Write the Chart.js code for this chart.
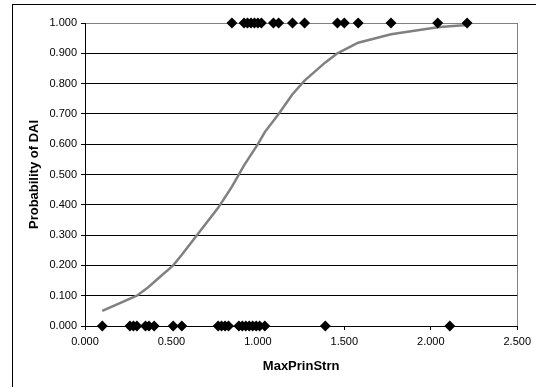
<!DOCTYPE html>
<html>
<head>
<meta charset="utf-8">
<script src="https://cdn.jsdelivr.net/npm/chart.js@4"></script>
<style>
  body { margin: 0; background: #fff; }
  #wrap { position: relative; width: 536px; height: 387px; overflow: hidden; }
  #frame { position: absolute; left: 12px; top: 4px; width: 600px; height: 500px;
           border-left: 1px solid #000; border-top: 1px solid #000; }
  canvas { position: absolute; left: 0; top: 0; }
</style>
</head>
<body>
<div id="wrap">
  <div id="frame"></div>
  <canvas id="myChart" width="536" height="387"></canvas>
</div>
<script>
// observed outcome = 0 (no DAI)
const noDaiX = [0.10, 0.26, 0.28, 0.30, 0.35, 0.37, 0.40, 0.51, 0.56,
  0.77, 0.79, 0.81, 0.83, 0.89, 0.91, 0.93, 0.95, 0.97, 0.99, 1.01, 1.04, 1.39, 2.11];
// observed outcome = 1 (DAI)
const daiX = [0.85, 0.92, 0.94, 0.96, 0.98, 1.00, 1.02, 1.09, 1.12, 1.20,
  1.27, 1.46, 1.50, 1.58, 1.77, 2.04, 2.21];
// fitted probability curve
const curveX = [0.10, 0.30, 0.36, 0.40, 0.51, 0.56, 0.77, 0.85, 0.92, 1.00, 1.04,
  1.12, 1.20, 1.27, 1.39, 1.46, 1.58, 1.77, 2.04, 2.11, 2.21];
const curveY = [0.050, 0.100, 0.125, 0.145, 0.200, 0.235, 0.390, 0.460, 0.530, 0.600, 0.640,
  0.700, 0.765, 0.810, 0.870, 0.900, 0.935, 0.963, 0.986, 0.989, 0.993];
const xTicks = [0, 0.5, 1, 1.5, 2, 2.5];

const font = "'Liberation Sans', Arial, sans-serif";
const ctx = document.getElementById("myChart").getContext("2d");

new Chart(ctx, {
  type: "scatter",
  data: {
    datasets: [
      {
        data: curveX.map((x, i) => ({ x: x, y: curveY[i] })),
        showLine: true,
        pointRadius: 0,
        borderColor: "#808080",
        borderWidth: 2.5,
        tension: 0,
        clip: false,
        order: 2,
      },
      {
        data: noDaiX.map((x) => ({ x: x, y: 0 })),
        pointStyle: "rectRot",
        pointRadius: 5.5,
        backgroundColor: "#000",
        borderColor: "#000",
        borderWidth: 0,
        clip: false,
        order: 1,
      },
      {
        data: daiX.map((x) => ({ x: x, y: 1 })),
        pointStyle: "rectRot",
        pointRadius: 5.5,
        backgroundColor: "#000",
        borderColor: "#000",
        borderWidth: 0,
        clip: false,
        order: 1,
      },
    ],
  },
  options: {
    responsive: false,
    animation: false,
    layout: { padding: { left: 0, right: 17, top: 23, bottom: 0 } },
    plugins: {
      legend: { display: false },
      tooltip: { enabled: false },
    },
    scales: {
      x: {
        type: "linear",
        min: 0,
        max: 2.5,
        afterBuildTicks: (s) => { s.ticks = xTicks.map((v) => ({ value: v })); },
        afterFit: (s) => { s.height = 61; },
        grid: {
          drawOnChartArea: true,
          color: (c) => (c.tick && c.tick.value === 2.5 ? "#808080" : "rgba(0,0,0,0)"),
          tickColor: "#000",
          tickLength: 4,
        },
        border: { display: false },
        ticks: {
          color: "#000",
          padding: 5,
          maxRotation: 0,
          font: { family: font, size: 11 },
          callback: (v) => v.toFixed(3),
        },
        title: {
          display: true,
          text: "MaxPrinStrn",
          color: "#000",
          font: { family: font, size: 13, weight: "bold" },
          padding: { bottom: 13 },
        },
      },
      y: {
        min: 0,
        max: 1,
        afterFit: (s) => { s.width = 85; },
        grid: {
          color: (c) => (c.tick && c.tick.value === 1 ? "#808080" : "#000"),
          tickColor: "#000",
          tickLength: 4,
        },
        border: { display: true, color: "#000" },
        ticks: {
          stepSize: 0.1,
          color: "#000",
          padding: 4,
          font: { family: font, size: 11 },
          callback: (v) => v.toFixed(3),
        },
        title: {
          display: true,
          text: "Probability of DAI",
          color: "#000",
          font: { family: font, size: 13, weight: "bold" },
          padding: { top: 27 },
        },
      },
    },
  },
});
</script>
</body>
</html>
